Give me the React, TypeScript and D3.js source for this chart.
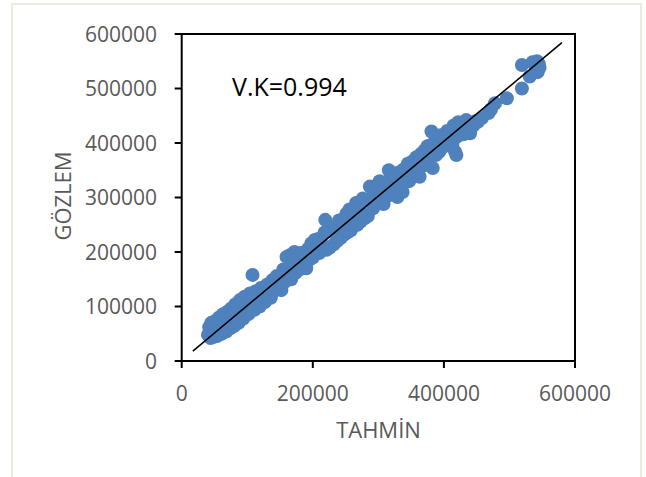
import React from "react";
import * as d3 from "d3";

// tahmin (x) / gözlem (y) pairs
const points: [number, number][] = [
  [40000, 48000], [42000, 62000], [44000, 42000], [45000, 70000], [47000, 55000], [48000, 44000],
  [50000, 66000], [51000, 50000], [52000, 74000], [54000, 46000], [55000, 60000], [57000, 80000],
  [58000, 52000], [60000, 70000], [61000, 50000], [63000, 86000], [64000, 60000], [66000, 76000],
  [68000, 54000], [69000, 90000], [70000, 66000], [72000, 80000], [74000, 60000], [75000, 96000],
  [77000, 72000], [79000, 88000], [80000, 64000], [82000, 104000], [84000, 78000], [85000, 95000],
  [87000, 70000], [89000, 112000], [90000, 84000], [92000, 100000], [94000, 78000], [96000, 118000],
  [98000, 90000], [100000, 108000], [102000, 86000], [104000, 124000], [106000, 98000], [108000, 158000],
  [109000, 114000], [111000, 94000], [113000, 128000], [115000, 105000], [117000, 120000], [119000, 100000],
  [121000, 134000], [123000, 112000], [125000, 126000], [127000, 108000], [130000, 140000], [132000, 118000],
  [134000, 132000], [136000, 116000], [138000, 148000], [140000, 128000], [143000, 140000], [145000, 156000],
  [147000, 134000], [150000, 150000], [152000, 130000], [155000, 168000], [157000, 145000], [160000, 191000],
  [162000, 158000], [165000, 194000], [167000, 150000], [170000, 175000], [172000, 200000], [174000, 162000],
  [177000, 185000], [180000, 168000], [182000, 198000], [185000, 175000], [188000, 192000], [190000, 170000],
  [193000, 206000], [195000, 186000], [198000, 216000], [200000, 190000], [203000, 222000], [205000, 200000],
  [208000, 224000], [210000, 198000], [213000, 216000], [215000, 204000], [219000, 259000], [218000, 236000],
  [221000, 204000], [224000, 238000], [226000, 208000], [229000, 244000], [232000, 214000], [235000, 242000],
  [237000, 220000], [240000, 258000], [243000, 226000], [245000, 258000], [248000, 232000], [251000, 270000],
  [253000, 236000], [256000, 278000], [258000, 240000], [261000, 268000], [263000, 248000], [266000, 290000],
  [268000, 250000], [271000, 278000], [273000, 256000], [276000, 298000], [279000, 262000], [281000, 296000],
  [284000, 266000], [287000, 320000], [289000, 298000], [292000, 280000], [294000, 320000], [297000, 302000],
  [300000, 290000], [302000, 330000], [305000, 308000], [308000, 288000], [310000, 322000], [313000, 302000],
  [316000, 350000], [318000, 332000], [320000, 312000], [323000, 340000], [326000, 318000], [329000, 301000],
  [331000, 346000], [334000, 326000], [337000, 310000], [339000, 352000], [342000, 334000], [345000, 362000],
  [347000, 330000], [350000, 346000], [352000, 366000], [355000, 340000], [358000, 374000], [360000, 350000],
  [363000, 338000], [365000, 380000], [368000, 358000], [370000, 386000], [373000, 362000], [375000, 394000],
  [378000, 372000], [381000, 421000], [380000, 396000], [383000, 354000], [385000, 400000], [388000, 378000],
  [390000, 404000], [393000, 384000], [395000, 414000], [398000, 392000], [400000, 412000], [403000, 396000],
  [405000, 422000], [408000, 400000], [410000, 418000], [413000, 398000], [415000, 432000], [417000, 384000],
  [419000, 378000], [420000, 412000], [422000, 438000], [425000, 420000], [428000, 436000], [430000, 416000],
  [434000, 442000], [437000, 424000], [440000, 418000], [445000, 432000], [448000, 440000], [452000, 439000],
  [458000, 446000], [468000, 455000], [472000, 462000], [478000, 473000], [496000, 482000], [519000, 500000],
  [519000, 543000], [531000, 522000], [535000, 548000], [540000, 541000], [542000, 550000], [545000, 545000],
  [546000, 538000], [543000, 530000],
];

const trend: [number, number][] = [[17000, 18300], [580000, 584000]];

const xTicks = [0, 200000, 400000, 600000];
const yTicks = [0, 100000, 200000, 300000, 400000, 500000, 600000];

const W = 646;
const H = 477;

export default function App() {
  const x = d3.scaleLinear().domain([0, 600000]).range([181.7, 575]);
  const y = d3.scaleLinear().domain([0, 600000]).range([361, 34]);
  const line = d3.line<[number, number]>().x(d => x(d[0])).y(d => y(d[1]));
  const font = "'Open Sans', sans-serif";
  const grey = "#595959";

  return (
    <svg width={W} height={H} style={{ position: "absolute", left: 0, top: 0, background: "#fff" }}>
      <rect x={12} y={4} width={629} height={H + 10} fill="#fff" stroke="#ebebdf" strokeWidth={2} />

      {points.map((d, i) => (
        <circle key={i} cx={x(d[0])} cy={y(d[1])} r={7} fill="#4F81BD" />
      ))}
      <path d={line(trend) || ""} stroke="#000" strokeWidth={1.6} fill="none" />

      {/* frame */}
      <rect x={x(0)} y={y(600000)} width={x(600000) - x(0)} height={y(0) - y(600000)}
        fill="none" stroke="#000" strokeWidth={2} />

      {yTicks.map(t => (
        <g key={t}>
          <line x1={x(0) - 7} x2={x(0)} y1={y(t)} y2={y(t)} stroke="#000" strokeWidth={2} />
          <text x={157} y={y(t)} dy="0.36em" textAnchor="end" fontFamily={font} fontSize={21} fill={grey}>{t}</text>
        </g>
      ))}
      {xTicks.map(t => (
        <g key={t}>
          <line x1={x(t)} x2={x(t)} y1={y(0)} y2={y(0) + 7} stroke="#000" strokeWidth={2} />
          <text x={x(t)} y={401} textAnchor="middle" fontFamily={font} fontSize={21} fill={grey}>{t}</text>
        </g>
      ))}

      <text x={378.5} y={438} textAnchor="middle" fontFamily={font} fontSize={22} fill={grey}>TAHMİN</text>
      <text transform="translate(71,196) rotate(-90)" textAnchor="middle" fontFamily={font} fontSize={22} fill={grey}>GÖZLEM</text>
      <text x={232} y={96} fontFamily={font} fontSize={25} fill="#000">V.K=0.994</text>
    </svg>
  );
}
